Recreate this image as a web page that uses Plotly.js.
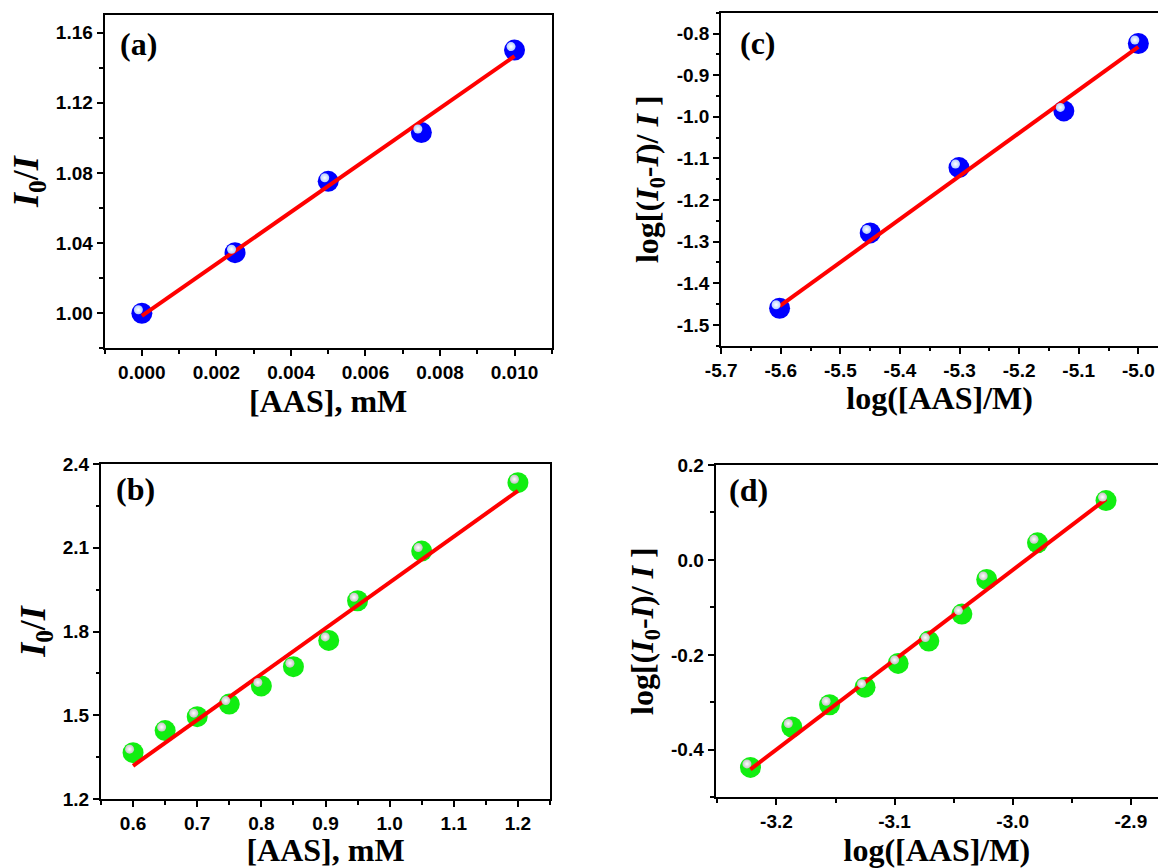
<!DOCTYPE html>
<html>
<head>
<meta charset="utf-8">
<script src="https://cdn.plot.ly/plotly-3.0.1.min.js"></script>
<style>html,body{margin:0;padding:0;background:#fff;}#chart{width:1158px;height:868px;}</style>
</head>
<body>
<div id="chart"></div>
<script>
// ---------- data ----------
// (a) I0/I vs [AAS] (mM), low concentration
const aX = [0, 0.0025, 0.005, 0.0075, 0.010];
const aY = [1.000, 1.0345, 1.0752, 1.103, 1.150];
const aFitX = [0, 0.010];
const aFitY = [0.9985, 1.1465];
const aXTicks = [0, 0.002, 0.004, 0.006, 0.008, 0.010];
const aXLabels = ['0.000', '0.002', '0.004', '0.006', '0.008', '0.010'];
const aYTicks = [1.00, 1.04, 1.08, 1.12, 1.16];
const aYLabels = ['1.00', '1.04', '1.08', '1.12', '1.16'];

// (b) I0/I vs [AAS] (mM), high concentration
const bX = [0.6, 0.65, 0.7, 0.75, 0.8, 0.85, 0.905, 0.95, 1.05, 1.2];
const bY = [1.366, 1.445, 1.495, 1.540, 1.605, 1.674, 1.768, 1.910, 2.088, 2.333];
const bFitX = [0.6, 1.2];
const bFitY = [1.319, 2.304];
const bXTicks = [0.6, 0.7, 0.8, 0.9, 1.0, 1.1, 1.2];
const bXLabels = ['0.6', '0.7', '0.8', '0.9', '1.0', '1.1', '1.2'];
const bYTicks = [1.2, 1.5, 1.8, 2.1, 2.4];
const bYLabels = ['1.2', '1.5', '1.8', '2.1', '2.4'];

// (c) log[(I0-I)/I] vs log([AAS]/M), low concentration
const cX = [-5.602, -5.45, -5.301, -5.125, -5.0];
const cY = [-1.460, -1.279, -1.122, -0.986, -0.824];
const cFitX = [-5.602, -5.0];
const cFitY = [-1.455, -0.832];
const cXTicks = [-5.7, -5.6, -5.5, -5.4, -5.3, -5.2, -5.1, -5.0];
const cXLabels = ['-5.7', '-5.6', '-5.5', '-5.4', '-5.3', '-5.2', '-5.1', '-5.0'];
const cYTicks = [-1.5, -1.4, -1.3, -1.2, -1.1, -1.0, -0.9, -0.8];
const cYLabels = ['-1.5', '-1.4', '-1.3', '-1.2', '-1.1', '-1.0', '-0.9', '-0.8'];

// (d) log[(I0-I)/I] vs log([AAS]/M), high concentration
const dX = [-3.222, -3.187, -3.155, -3.125, -3.097, -3.071, -3.043, -3.022, -2.979, -2.921];
const dY = [-0.437, -0.352, -0.305, -0.268, -0.218, -0.171, -0.114, -0.041, 0.036, 0.125];
const dFitX = [-3.222, -2.921];
const dFitY = [-0.441, 0.128];
const dXTicks = [-3.2, -3.1, -3.0, -2.9];
const dXLabels = ['-3.2', '-3.1', '-3.0', '-2.9'];
const dYTicks = [-0.4, -0.2, 0.0, 0.2];
const dYLabels = ['-0.4', '-0.2', '0.0', '0.2'];

// ---------- layout helpers ----------
const W = 1158, H = 868;
const tickFont = {family: 'Liberation Sans, Arial, sans-serif', size: 19, color: '#000', weight: 'bold'};
const titleFont = {family: 'Liberation Serif, Times New Roman, serif', size: 32, color: '#000', weight: 'bold'};
const bigTitleFont = {family: 'Liberation Serif, Times New Roman, serif', size: 36, color: '#000', weight: 'bold'};

const panels = [
  {key: 'a', x: aX, y: aY, fx: aFitX, fy: aFitY, col: '#0000ff', hl: '#b4ccff', hlc: '#ffffff',
   px: [104.6, 551.8], py: [15, 348.3], xr: [-0.001, 0.011], yr: [0.98, 1.17],
   xt: aXTicks, xl: aXLabels, yt: aYTicks, yl: aYLabels, xminor: 0.001, yminor: 0.02, xm0: 0, ym0: 1.0,
   xtitle: '[AAS], mM', ytitle: '<i>I</i><sub>0</sub>/<i>I</i>', ytf: bigTitleFont, ystand: 6, ymirror: true, lab: '(a)', lx: 0.03, ly: 0.913},
  {key: 'b', x: bX, y: bY, fx: bFitX, fy: bFitY, col: '#11ee11', hl: '#c4c4c4', hlc: '#ffffff',
   px: [101, 550], py: [464, 799], xr: [0.55, 1.25], yr: [1.2, 2.4],
   xt: bXTicks, xl: bXLabels, yt: bYTicks, yl: bYLabels, xminor: 0.05, yminor: 0.15, xm0: 0.6, ym0: 1.2,
   xtitle: '[AAS], mM', ytitle: '<i>I</i><sub>0</sub>/<i>I</i>', ytf: bigTitleFont, ystand: 6, ymirror: true, lab: '(b)', lx: 0.029, ly: 0.925},
  {key: 'c', x: cX, y: cY, fx: cFitX, fy: cFitY, col: '#0000ff', hl: '#b4ccff', hlc: '#ffffff',
   px: [721.2, 1158], py: [12.7, 345.7], xr: [-5.7, -4.967], yr: [-1.55, -0.75],
   xt: cXTicks, xl: cXLabels, yt: cYTicks, yl: cYLabels, xminor: 0.05, yminor: 0.05, xm0: -5.7, ym0: -1.5,
   xtitle: 'log([AAS]/M)', ytitle: 'log[(<i>I</i><sub>0</sub>-<i>I</i>)/ <i>I</i> ]', ytf: titleFont, ystand: 8, ymirror: false, lab: '(c)', lx: 0.038, ly: 0.909},
  {key: 'd', x: dX, y: dY, fx: dFitX, fy: dFitY, col: '#11ee11', hl: '#c4c4c4', hlc: '#ffffff',
   px: [715.6, 1158], py: [465, 797.3], xr: [-3.2515, -2.877], yr: [-0.5, 0.2],
   xt: dXTicks, xl: dXLabels, yt: dYTicks, yl: dYLabels, xminor: 0.05, yminor: 0.1, xm0: -3.2, ym0: -0.4,
   xtitle: 'log([AAS]/M)', ytitle: 'log[(<i>I</i><sub>0</sub>-<i>I</i>)/ <i>I</i> ]', ytf: titleFont, ystand: 8, ymirror: false, lab: '(d)', lx: 0.025, ly: 0.925}
];

const data = [];
const layout = {
  width: W, height: H, margin: {l: 0, r: 0, t: 0, b: 0},
  paper_bgcolor: '#ffffff', plot_bgcolor: '#ffffff', showlegend: false,
  annotations: []
};

const HL_DX = 3.5, HL_DY = 3.5; // highlight offset in pixels (up-left)

panels.forEach((p, i) => {
  const n = i + 1;
  const n2 = i + 5;
  const xs = n === 1 ? '' : String(n);
  const xdom = [p.px[0] / W, p.px[1] / W];
  const ydom = [1 - p.py[1] / H, 1 - p.py[0] / H];
  const xa = {
    domain: xdom, range: p.xr, anchor: 'y' + xs,
    showline: true, linewidth: 2, linecolor: '#000', mirror: true,
    showgrid: false, zeroline: false,
    ticks: 'outside', ticklen: 6, tickwidth: 2, tickcolor: '#000',
    tickmode: 'array', tickvals: p.xt, ticktext: p.xl, tickfont: tickFont,
    minor: {tickmode: 'linear', tick0: p.xm0, dtick: p.xminor, ticks: 'outside', ticklen: 3.5, tickwidth: 2, tickcolor: '#000', showgrid: false},
    title: {text: p.xtitle, font: titleFont, standoff: 3}
  };
  const ya = {
    domain: ydom, range: p.yr, anchor: 'x' + xs,
    showline: true, linewidth: 2, linecolor: '#000', mirror: p.ymirror,
    showgrid: false, zeroline: false,
    ticks: 'outside', ticklen: 6, tickwidth: 2, tickcolor: '#000',
    tickmode: 'array', tickvals: p.yt, ticktext: p.yl, tickfont: tickFont,
    minor: {tickmode: 'linear', tick0: p.ym0, dtick: p.yminor, ticks: 'outside', ticklen: 3.5, tickwidth: 2, tickcolor: '#000', showgrid: false},
    title: {text: p.ytitle, font: p.ytf, standoff: p.ystand}
  };
  layout['xaxis' + xs] = xa;
  layout['yaxis' + xs] = ya;

  // overlay axes, shifted by a few pixels, used to place the sphere highlight
  const dxu = HL_DX * (p.xr[1] - p.xr[0]) / (p.px[1] - p.px[0]);
  const dyu = HL_DY * (p.yr[1] - p.yr[0]) / (p.py[1] - p.py[0]);
  layout['xaxis' + n2] = {domain: xdom, range: [p.xr[0] + dxu, p.xr[1] + dxu], overlaying: 'x' + xs, anchor: 'y' + n2, visible: false, showgrid: false, zeroline: false};
  layout['yaxis' + n2] = {domain: ydom, range: [p.yr[0] - dyu, p.yr[1] - dyu], overlaying: 'y' + xs, anchor: 'x' + n2, visible: false, showgrid: false, zeroline: false};

  // spheres
  data.push({
    type: 'scatter', mode: 'markers', x: p.x, y: p.y, xaxis: 'x' + xs, yaxis: 'y' + xs,
    marker: {size: 21, color: p.col, line: {width: 0}}, hoverinfo: 'skip', cliponaxis: false
  });
  // fit line
  data.push({
    type: 'scatter', mode: 'lines', x: p.fx, y: p.fy, xaxis: 'x' + xs, yaxis: 'y' + xs,
    line: {color: '#ff0000', width: 4}, hoverinfo: 'skip'
  });
  // highlight
  data.push({
    type: 'scatter', mode: 'markers', x: p.x, y: p.y, xaxis: 'x' + n2, yaxis: 'y' + n2,
    marker: {size: 9, color: p.hl, line: {width: 0}, gradient: {type: 'radial', color: p.hlc}},
    hoverinfo: 'skip', cliponaxis: false
  });

  layout.annotations.push({
    text: p.lab, xref: 'x' + xs + ' domain', yref: 'y' + xs + ' domain',
    x: p.lx, y: p.ly, xanchor: 'left', yanchor: 'middle', showarrow: false,
    font: {family: 'Liberation Serif, Times New Roman, serif', size: 32, color: '#000', weight: 'bold'}
  });
});

Plotly.newPlot('chart', data, layout, {displayModeBar: false, staticPlot: true});
</script>
</body>
</html>
